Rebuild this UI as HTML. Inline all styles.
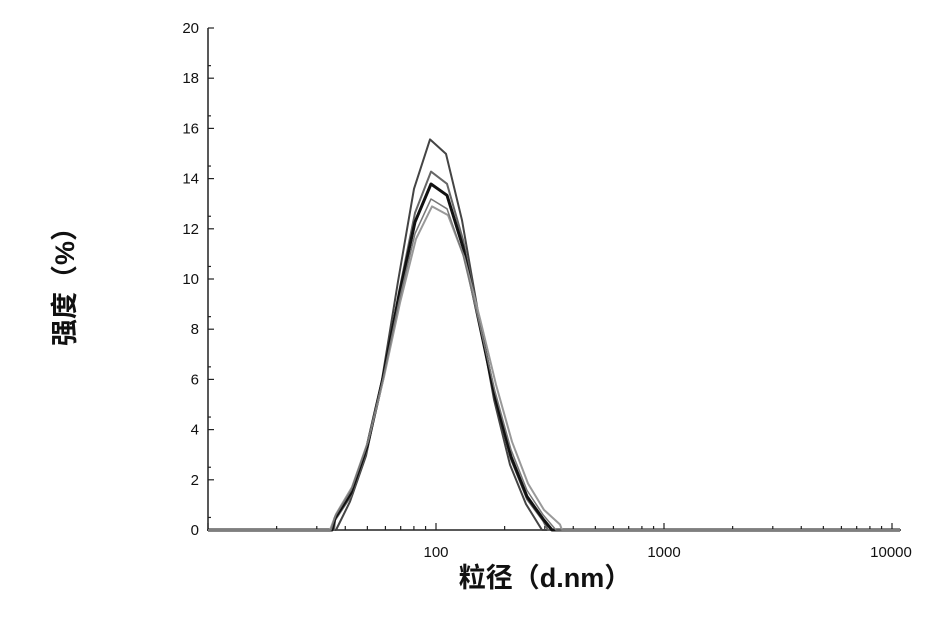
<!DOCTYPE html>
<html><head><meta charset="utf-8"><style>
body{margin:0;background:#fff;width:939px;height:629px;overflow:hidden}
svg{display:block}
text{font-family:"Liberation Sans","Noto Sans CJK SC",sans-serif}
</style></head><body>
<svg id="s" width="939" height="629" xmlns="http://www.w3.org/2000/svg">
<g stroke="#222" stroke-width="1.5" fill="none">
<line x1="208" y1="28" x2="208" y2="531"/>
<line x1="207" y1="530" x2="901" y2="530"/>
</g>
<g id="ticks" stroke="#222" stroke-width="1.2"></g>
<g font-size="15" fill="#111" text-anchor="end" id="yl"></g>
<g font-size="15" fill="#111" text-anchor="middle">
<text x="436" y="557">100</text><text x="664" y="557">1000</text><text x="891" y="557">10000</text>
</g>
<text x="545" y="587" font-size="27" font-weight="bold" text-anchor="middle" fill="#111">粒径（d.nm）</text>
<text transform="translate(74,280) rotate(-90)" font-size="27" font-weight="bold" text-anchor="middle" fill="#111">强度（%）</text>
<g id="curves" fill="none" stroke-linejoin="round"></g>
</svg>
<script>
var NS="http://www.w3.org/2000/svg";
function el(p,n,a,t){var e=document.createElementNS(NS,n);for(var k in a)e.setAttribute(k,a[k]);if(t)e.textContent=t;document.getElementById(p).appendChild(e);}
for(var v=0;v<=20;v+=2){var y=530-v*25.1;el("yl","text",{x:199,y:y+5},""+v);el("ticks","line",{x1:208,y1:y,x2:214,y2:y});if(v<20)el("ticks","line",{x1:208,y1:y-12.55,x2:211,y2:y-12.55});}
for(var d=1;d<4;d++)for(var m=1;m<10;m++){var x=208+228*(d-1+Math.log10(m));el("ticks","line",{x1:x,y1:530,x2:x,y2:m==1?523:526});}
el("ticks","line",{x1:892,y1:530,x2:892,y2:523});
var C=[[15.9,434,38,41,"#444",2,336,542],[14.6,435,40,43,"#666",2,334,548],[14.1,435,41,44,"#111",3,332,552],[13.2,436,43,48,"#999",2,330,562],[13.5,435,42,46,"#777",1.5,331,556]];
C.forEach(function(c){var pts=["208,530",c[6]+",530"];for(var x=c[1]-4-16*6;x<c[7];x+=16){if(x<=c[6])continue;var dx=x-c[1];var s=dx<0?c[2]:c[3];var v=c[0]*Math.exp(-dx*dx/(2*s*s));v=Math.max(0,v-0.25);pts.push(x+","+(530-v*25.1).toFixed(1));}
pts.push(c[7]+",530");pts.push("900,530");
el("curves","polyline",{points:pts.join(" "),stroke:c[4],"stroke-width":c[5]});});
</script>
</body></html>
